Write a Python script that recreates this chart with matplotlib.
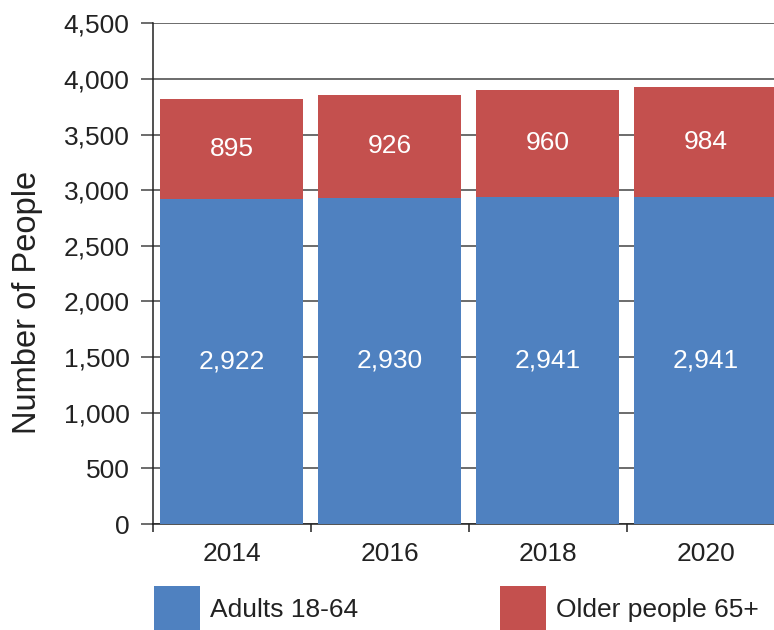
import matplotlib
matplotlib.use("Agg")
import matplotlib.pyplot as plt
from matplotlib.patches import Patch
from matplotlib.ticker import FuncFormatter, FixedLocator

years = ["2014", "2016", "2018", "2020"]
adults = [2922, 2930, 2941, 2941]
older = [895, 926, 960, 984]
series_names = ["Adults 18-64", "Older people 65+"]
y_ticks = [0, 500, 1000, 1500, 2000, 2500, 3000, 3500, 4000, 4500]

BLUE = "#4F81C0"
RED = "#C4504E"
GRID = "#444444"
INK = "#222222"
FS = 19

plt.rcParams["font.family"] = ["Liberation Sans", "DejaVu Sans"]

fig = plt.figure(figsize=(7.74, 6.30), dpi=100)
ax = fig.add_axes([152.5 / 774, 106 / 630, 632 / 774, 500.7 / 630])

x = list(range(len(years)))
b1 = ax.bar(x, adults, width=0.905, color=BLUE, zorder=3, linewidth=0)
b2 = ax.bar(x, older, width=0.905, bottom=adults, color=RED, zorder=3, linewidth=0)

fmt = lambda v: f"{v:,.0f}"
ax.bar_label(b1, labels=[fmt(v) for v in adults], label_type="center",
             color="white", fontsize=FS)
ax.bar_label(b2, labels=[fmt(v) for v in older], label_type="center",
             color="white", fontsize=FS)

ax.set_xlim(-0.5, len(years) - 0.5)
ax.set_ylim(0, 4500)
ax.set_yticks(y_ticks)
ax.yaxis.set_major_formatter(FuncFormatter(lambda v, p: f"{v:,.0f}"))
ax.grid(axis="y", color=GRID, linewidth=1.1, zorder=0)
ax.tick_params(axis="y", length=8.6, width=1.1, color=GRID, pad=8,
               labelsize=FS, labelcolor=INK)

ax.set_xticks(x)
ax.set_xticklabels(years)
ax.tick_params(axis="x", which="major", length=0, pad=13, labelsize=FS,
               labelcolor=INK)
ax.xaxis.set_minor_locator(FixedLocator([i - 0.5 for i in x]))
ax.tick_params(axis="x", which="minor", length=6, width=1.1, color=INK)

for s in ["top", "right"]:
    ax.spines[s].set_visible(False)
for s in ["left", "bottom"]:
    ax.spines[s].set_color(INK)
    ax.spines[s].set_linewidth(1.1)

ax.set_ylabel("Number of People", fontsize=23.5, color=INK)
ax.yaxis.set_label_coords(-0.173, 0.443)

handles = [Patch(facecolor=BLUE, edgecolor="none"),
           Patch(facecolor=RED, edgecolor="none")]
fig.legend(handles, series_names, loc="center left",
           bbox_to_anchor=(154 / 774, (630 - 609) / 630), ncol=2,
           frameon=False, fontsize=FS, handlelength=1.75, handleheight=2.3,
           handletextpad=0.38, columnspacing=5.35, borderpad=0, borderaxespad=0,
           labelcolor=INK)

fig.savefig("out.png", dpi=100)
